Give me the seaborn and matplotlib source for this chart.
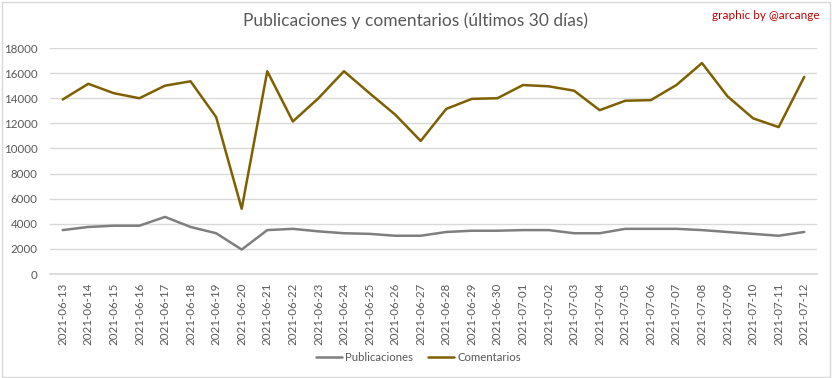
import matplotlib
matplotlib.use("Agg")
import matplotlib.pyplot as plt
import seaborn as sns
import pandas as pd
from matplotlib.patches import Rectangle

dates = ["2021-06-13", "2021-06-14", "2021-06-15", "2021-06-16", "2021-06-17", "2021-06-18",
         "2021-06-19", "2021-06-20", "2021-06-21", "2021-06-22", "2021-06-23", "2021-06-24",
         "2021-06-25", "2021-06-26", "2021-06-27", "2021-06-28", "2021-06-29", "2021-06-30",
         "2021-07-01", "2021-07-02", "2021-07-03", "2021-07-04", "2021-07-05", "2021-07-06",
         "2021-07-07", "2021-07-08", "2021-07-09", "2021-07-10", "2021-07-11", "2021-07-12"]
publicaciones = [3500, 3750, 3850, 3850, 4550, 3750, 3250, 1950, 3500, 3600, 3400, 3250,
                 3200, 3050, 3050, 3350, 3450, 3450, 3500, 3500, 3250, 3250, 3600, 3600,
                 3600, 3500, 3350, 3200, 3050, 3350]
comentarios = [13900, 15150, 14400, 14000, 15000, 15350, 12500, 5200, 16150, 12150, 14000, 16150,
               14400, 12700, 10600, 13150, 13950, 14000, 15050, 14950, 14600, 13050, 13800, 13850,
               15050, 16800, 14150, 12400, 11700, 15700]
series_names = ["Publicaciones", "Comentarios"]
y_ticks = [0, 2000, 4000, 6000, 8000, 10000, 12000, 14000, 16000, 18000]

df = pd.DataFrame({
    "fecha": dates * 2,
    "valor": publicaciones + comentarios,
    "serie": [series_names[0]] * len(dates) + [series_names[1]] * len(dates),
})

sns.set_theme(style="white")
plt.rcParams["font.family"] = ["Lato", "DejaVu Sans"]

fig = plt.figure(figsize=(8.32, 3.78), dpi=100)
ax = fig.add_axes([0.060, 0.275, 0.922, 0.598])

sns.lineplot(data=df, x="fecha", y="valor", hue="serie", sort=False,
             palette={"Publicaciones": "#7F7F7F", "Comentarios": "#7F6000"},
             linewidth=1.8, ax=ax)

ax.set_xlim(-0.5, len(dates) - 0.5)
ax.set_ylim(0, 18000)
ax.set_yticks(y_ticks)
ax.set_yticklabels([str(t) for t in y_ticks])
ax.set_xticks(range(len(dates)))
ax.set_xticklabels(dates, rotation=90)
ax.tick_params(axis="both", labelsize=8.3, colors="#595959", length=0)
ax.tick_params(axis="y", pad=9)
ax.tick_params(axis="x", pad=6)
ax.grid(axis="y", color="#D9D9D9", linewidth=1)
ax.set_axisbelow(True)
for s in ax.spines.values():
    s.set_visible(False)
ax.spines["bottom"].set_visible(True)
ax.spines["bottom"].set_color("#D9D9D9")
ax.set_xlabel("")
ax.set_ylabel("")

handles, labels = ax.get_legend_handles_labels()
ax.get_legend().remove()
leg = fig.legend(handles, labels, loc="center", bbox_to_anchor=(0.503, 0.054), ncol=2, frameon=False,
                 fontsize=8.2, handlelength=2.3, handletextpad=0.25, columnspacing=1.3)
for t in leg.get_texts():
    t.set_color("#595959")

fig.text(0.499, 0.945, "Publicaciones y comentarios (últimos 30 días)", ha="center", va="center",
         fontsize=12.5, color="#595959")
fig.text(0.985, 0.96, "graphic by @arcange", ha="right", va="center", fontsize=8.5, color="#C00000")

fig.patches.append(Rectangle((0.002, 0.003), 0.995, 0.993, transform=fig.transFigure,
                             fill=False, edgecolor="#D9D9D9", linewidth=1))

fig.savefig("out.png", dpi=100)
